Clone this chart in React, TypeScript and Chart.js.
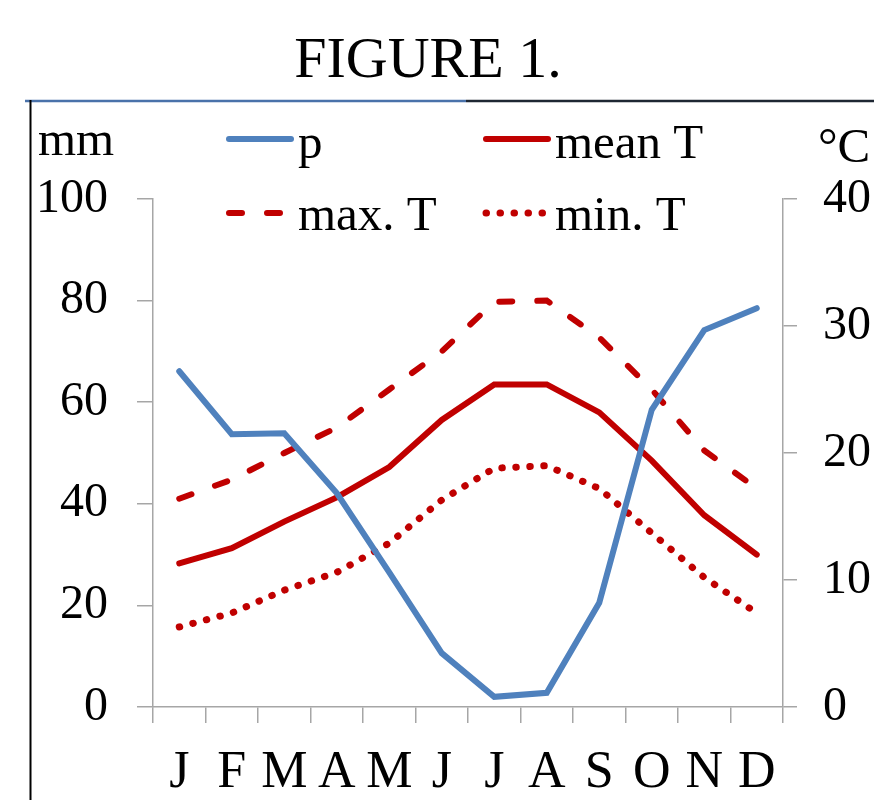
import React, { useEffect, useRef } from "react";
import { Chart, registerables } from "chart.js";

Chart.register(...registerables);

const months = ["J", "F", "M", "A", "M", "J", "J", "A", "S", "O", "N", "D"];
const precipitation = [66.1, 53.7, 53.9, 42.1, 26.5, 10.6, 2.0, 2.8, 20.5, 58.5, 74.2, 78.5];
const meanT = [11.3, 12.5, 14.6, 16.5, 18.9, 22.6, 25.4, 25.4, 23.2, 19.4, 15.1, 12.0];
const maxT = [16.4, 17.9, 20.0, 22.0, 25.0, 28.0, 31.9, 32.0, 29.1, 25.0, 20.2, 17.2];
const minT = [6.3, 7.4, 9.2, 10.6, 12.9, 16.3, 18.8, 19.0, 17.2, 13.7, 10.2, 7.4];

const seriesLabels = ["p", "mean T", "max. T", "min. T"];
const titleText = "FIGURE 1.";
const leftUnit = "mm";
const rightUnit = "°C";

const BLUE = "#4f81bd";
const RED = "#c00000";
const GRAY = "#a6a6a6";
const FONT = "'Liberation Serif', 'Times New Roman', serif";

const decorPlugin = {
  id: "decor",
  afterDraw(chart: any) {
    const ctx = chart.ctx;
    ctx.save();
    // title
    ctx.fillStyle = "#000";
    ctx.font = `58px ${FONT}`;
    ctx.textAlign = "center";
    ctx.textBaseline = "alphabetic";
    ctx.fillText(titleText, 428, 77);

    // top rule
    ctx.lineCap = "butt";
    ctx.lineWidth = 2.5;
    ctx.strokeStyle = "#4a72aa";
    ctx.beginPath();
    ctx.moveTo(25, 101);
    ctx.lineTo(466, 101);
    ctx.stroke();
    ctx.strokeStyle = "#1e2733";
    ctx.beginPath();
    ctx.moveTo(466, 101);
    ctx.lineTo(874, 101);
    ctx.stroke();
    // left rule
    ctx.strokeStyle = "#000";
    ctx.lineWidth = 2;
    ctx.beginPath();
    ctx.moveTo(30.5, 100);
    ctx.lineTo(30.5, 800);
    ctx.stroke();

    // unit labels
    ctx.fillStyle = "#000";
    ctx.font = `49px ${FONT}`;
    ctx.textAlign = "left";
    ctx.fillText(leftUnit, 38, 155);
    ctx.fillText(rightUnit, 818, 162);

    // legend
    const pos = [
      { x1: 229, x2: 291, y: 139, tx: 298, ty: 158 },
      { x1: 486, x2: 548, y: 139, tx: 555, ty: 158 },
      { x1: 229, x2: 288, y: 213, tx: 298, ty: 230 },
      { x1: 486, x2: 546, y: 213, tx: 555, ty: 230 },
    ];
    chart.data.datasets.forEach((ds: any, i: number) => {
      const p = pos[i];
      ctx.save();
      ctx.strokeStyle = ds.borderColor;
      ctx.lineWidth = ds.borderWidth;
      ctx.lineCap = ds.borderCapStyle || "round";
      ctx.setLineDash(ds.borderDash || []);
      ctx.beginPath();
      ctx.moveTo(p.x1, p.y);
      ctx.lineTo(p.x2, p.y);
      ctx.stroke();
      ctx.restore();
      ctx.fillStyle = "#000";
      ctx.font = `49px ${FONT}`;
      ctx.fillText(ds.label, p.tx, p.ty);
    });
    ctx.restore();
  },
};

export default function App() {
  const ref = useRef<HTMLCanvasElement | null>(null);

  useEffect(() => {
    const canvas = ref.current;
    if (!canvas) return;
    const chart = new Chart(canvas, {
      type: "line",
      data: {
        labels: months,
        datasets: [
          {
            label: seriesLabels[0],
            data: precipitation,
            yAxisID: "y",
            borderColor: BLUE,
            backgroundColor: BLUE,
            borderWidth: 6,
            borderCapStyle: "round",
            borderJoinStyle: "miter",
            pointRadius: 0,
            tension: 0,
          },
          {
            label: seriesLabels[1],
            data: meanT,
            yAxisID: "y2",
            borderColor: RED,
            backgroundColor: RED,
            borderWidth: 6,
            borderCapStyle: "round",
            borderJoinStyle: "miter",
            pointRadius: 0,
            tension: 0,
          },
          {
            label: seriesLabels[2],
            data: maxT,
            yAxisID: "y2",
            borderColor: RED,
            backgroundColor: RED,
            borderWidth: 6,
            borderDash: [13, 25],
            borderCapStyle: "round",
            pointRadius: 0,
            tension: 0,
          },
          {
            label: seriesLabels[3],
            data: minT,
            yAxisID: "y2",
            borderColor: RED,
            backgroundColor: RED,
            borderWidth: 7,
            borderDash: [0.5, 13.5],
            borderCapStyle: "round",
            pointRadius: 0,
            tension: 0,
          },
        ],
      },
      options: {
        responsive: false,
        animation: false,
        layout: { padding: { left: 0, right: 0, top: 199, bottom: 0 } },
        plugins: {
          legend: { display: false },
          tooltip: { enabled: false },
          title: { display: false },
        },
        scales: {
          x: {
            type: "category",
            offset: true,
            grid: {
              offset: true,
              drawOnChartArea: false,
              drawTicks: true,
              tickLength: 16,
              color: GRAY,
              lineWidth: 1.5,
            },
            border: { display: true, color: GRAY, width: 1.5 },
            ticks: {
              color: "#000",
              font: { family: FONT, size: 52 },
              padding: 19,
              maxRotation: 0,
              autoSkip: false,
            },
            afterFit(scale: any) {
              scale.height = 93;
            },
          },
          y: {
            position: "left",
            min: 0,
            max: 100,
            ticks: {
              stepSize: 20,
              color: "#000",
              font: { family: FONT, size: 48 },
              padding: 29,
            },
            grid: {
              drawOnChartArea: false,
              drawTicks: true,
              tickLength: 16,
              color: GRAY,
              lineWidth: 1.5,
            },
            border: { display: true, color: GRAY, width: 1.5 },
            afterFit(scale: any) {
              scale.width = 153;
            },
          },
          y2: {
            position: "right",
            min: 0,
            max: 40,
            ticks: {
              stepSize: 10,
              color: "#000",
              font: { family: FONT, size: 48 },
              padding: 26,
            },
            grid: {
              drawOnChartArea: false,
              drawTicks: true,
              tickLength: 14,
              color: GRAY,
              lineWidth: 1.5,
            },
            border: { display: true, color: GRAY, width: 1.5 },
            afterFit(scale: any) {
              scale.width = 91;
            },
          },
        },
      },
      plugins: [decorPlugin],
    } as any);
    return () => chart.destroy();
  }, []);

  return (
    <div style={{ position: "absolute", left: 0, top: 0, width: 874, height: 800, background: "#fff" }}>
      <canvas ref={ref} width={874} height={800} style={{ display: "block", width: 874, height: 800 }} />
    </div>
  );
}
